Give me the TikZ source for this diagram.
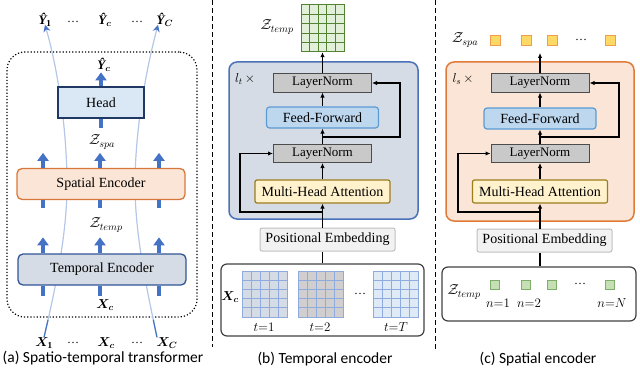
\RequirePackage{fix-cm}
\documentclass[tikz,border=0pt]{standalone}
\usepackage{amsmath,bm}
\usepackage{fontspec}
\setmainfont{Liberation Serif}
\newfontfamily\capfont{Carlito}
\usetikzlibrary{arrows.meta}

\definecolor{flowblue}{HTML}{4472C4}
\definecolor{paleblue}{HTML}{B4C7E7}
\definecolor{headfill}{HTML}{DAE8F6}
\definecolor{headline}{HTML}{203864}
\definecolor{spafill}{HTML}{FBE5D6}
\definecolor{spaline}{HTML}{D9773A}
\definecolor{tmpfill}{HTML}{D6DCE5}
\definecolor{tmpline}{HTML}{2F5597}
\definecolor{blkline}{HTML}{4A72B8}
\definecolor{sblkline}{HTML}{E07B39}
\definecolor{lnfill}{HTML}{C9C9C9}
\definecolor{fffill}{HTML}{BDD7EE}
\definecolor{ffline}{HTML}{5B9BD5}
\definecolor{mhafill}{HTML}{FFF2CC}
\definecolor{mhaline}{HTML}{9C7C1C}
\definecolor{pefill}{HTML}{F2F2F2}
\definecolor{peline}{HTML}{BFBFBF}
\definecolor{gridA}{HTML}{D6DCE5}
\definecolor{gridB}{HTML}{D0CECE}
\definecolor{gridC}{HTML}{DEEBF7}
\definecolor{gridline}{HTML}{8FAADC}
\definecolor{zfill}{HTML}{E2F0D9}
\definecolor{zline}{HTML}{548235}
\definecolor{sqfill}{HTML}{FFD966}
\definecolor{sqline}{HTML}{ED9D4D}
\definecolor{gsqfill}{HTML}{C5E0B4}
\definecolor{gsqline}{HTML}{7FAE6A}

\begin{document}
\begin{tikzpicture}[
    x=1pt, y=-1pt,
    enc/.style={rounded corners=5pt, line width=1.3pt, minimum width=168pt, minimum height=31pt, font=\fontsize{14}{16}\selectfont},
    lnorm/.style={draw=black!70, fill=lnfill, line width=1pt, minimum width=98pt, minimum height=18pt, font=\fontsize{13}{15}\selectfont},
    ffwd/.style={draw=ffline, fill=fffill, rounded corners=3pt, line width=1.2pt, minimum width=112pt, minimum height=21pt, font=\fontsize{14}{16}\selectfont},
    mha/.style={draw=mhaline, fill=mhafill, rounded corners=2pt, line width=1.2pt, minimum width=135pt, minimum height=23pt, font=\fontsize{14}{16}\selectfont},
    posemb/.style={draw=peline, fill=pefill, rounded corners=2pt, line width=1pt, minimum width=135pt, minimum height=23pt, font=\fontsize{14}{16}\selectfont},
    inbox/.style={draw=black!75, line width=1.2pt, rounded corners=6pt},
    lbl/.style={inner sep=0pt, font=\fontsize{13}{15}\selectfont},
    zlbl/.style={inner sep=0pt, font=\fontsize{14.5}{16}\selectfont},
    dots/.style={inner sep=0pt, font=\fontsize{12}{14}\selectfont},
    caption/.style={font=\capfont\fontsize{15.5}{18}\selectfont},
    barrow/.style={draw=flowblue, line width=3.5pt, -{Triangle[width=11pt,length=8pt]}},
    bstem/.style={draw=flowblue, line width=3.5pt},
    fade/.style={draw=paleblue, line width=1.2pt},
    flow/.style={line width=1.1pt, -{Latex[length=5pt,width=4.5pt]}},
    sep/.style={dash pattern=on 5pt off 3pt, line width=1pt},
    cell/.style={draw=gridline, line width=0.8pt},
    tok/.style={draw=sqline, fill=sqfill, line width=0.8pt, minimum size=10pt, inner sep=0pt},
    gtok/.style={draw=gsqline, fill=gsqfill, line width=0.8pt, minimum size=9pt, inner sep=0pt}
]
\useasboundingbox (0,0) rectangle (640,369);

% (a) spatio-temporal transformer
\node[draw, dotted, line width=1.2pt, rounded corners=18pt, minimum width=190pt, minimum height=265pt] (stt) at (102,184.5) {};

\node[lbl] (y1) at (45,20) {$\text{\bfseries\itshape Ŷ}_{\mathbf 1}$};
\node[dots] at (73,22) {…};
\node[lbl] (yc) at (105,20) {$\text{\bfseries\itshape Ŷ}_{\bm c}$};
\node[dots] at (137,22) {…};
\node[lbl] (yC) at (165,20) {$\text{\bfseries\itshape Ŷ}_{\bm C}$};

\node[lbl] (x1) at (44,343) {$\bm X_{\mathbf 1}$};
\node[dots] at (73,343) {…};
\node[lbl] (xc) at (106,343) {$\bm X_{\bm c}$};
\node[dots] at (137,343) {…};
\node[lbl] (xC) at (167,343) {$\bm X_{\bm C}$};

\draw[fade, -{Stealth[length=7pt,width=7pt,color=flowblue]}] (x1.north) .. controls (55,290) and (67,235) .. (67,185) .. controls (67,130) and (58,70) .. ([yshift=2pt]y1.south);
\draw[fade, draw=flowblue, dash pattern=on 18pt off 600pt] (x1.north) .. controls (55,290) and (67,235) .. (67,185);
\draw[fade, -{Stealth[length=7pt,width=7pt,color=flowblue]}] ([xshift=-10pt]xC.north) .. controls (147,290) and (135,235) .. (135,185) .. controls (135,130) and (146,70) .. ([xshift=-7pt,yshift=2pt]yC.south);
\draw[fade, draw=flowblue, dash pattern=on 18pt off 600pt] ([xshift=-10pt]xC.north) .. controls (147,290) and (135,235) .. (135,185);

\node[enc, draw=headline, fill=headfill, rounded corners=0pt, minimum width=86pt] (head) at (101,102.5) {Head};
\node[enc, draw=spaline, fill=spafill] (spa) at (101,184) {Spatial Encoder};
\node[enc, draw=tmpline, fill=tmpfill] (tmp) at (102,269.5) {Temporal Encoder};

\node[lbl] (ych) at (104,65) {$\text{\bfseries\itshape Ŷ}_{\bm c}$};
\node[zlbl] (zsa) at (102,142) {$\mathcal{Z}_{spa}$};
\node[zlbl] (zta) at (106,225) {$\mathcal{Z}_{temp}$};
\node[lbl] (xca) at (105,305) {$\bm X_{\bm c}$};

\draw[barrow] (head.north) -- ++(0,-14);
\draw[bstem] (head.south) -- ++(0,9);
\draw[barrow] ([xshift=-58pt]spa.north) -- ++(0,-15);
\draw[barrow] ([xshift=-1pt]spa.north) -- ++(0,-15);
\draw[barrow] ([xshift=58pt]spa.north) -- ++(0,-15);
\draw[bstem] ([xshift=-58pt]spa.south) -- ++(0,8);
\draw[bstem] ([xshift=-1pt]spa.south) -- ++(0,8);
\draw[bstem] ([xshift=58pt]spa.south) -- ++(0,8);
\draw[barrow] ([xshift=-59pt]tmp.north) -- ++(0,-16);
\draw[barrow] ([xshift=-2pt]tmp.north) -- ++(0,-16);
\draw[barrow] ([xshift=57pt]tmp.north) -- ++(0,-16);
\draw[bstem] ([xshift=-59pt]tmp.south) -- ++(0,10);
\draw[bstem] ([xshift=-2pt]tmp.south) -- ++(0,10);
\draw[bstem] ([xshift=57pt]tmp.south) -- ++(0,10);

\node[caption] at (103,358) {(a) Spatio-temporal transformer};

\draw[sep] (212,0) -- (212,347);

% (b) temporal encoder
\foreach \i in {0,...,4}
  \foreach \j in {0,...,4}
    \draw[cell, draw=zline, fill=zfill, line width=1pt] (301+\i*8.6, 5+\j*9.4) rectangle ++(8.6,9.4);
\node[minimum width=43pt, minimum height=47pt] (zgrid) at (322.5,28.5) {};
\node[zlbl] at (277,27) {$\mathcal{Z}_{temp}$};

\node[draw=blkline, fill=tmpfill, line width=1.5pt, rounded corners=8pt, minimum width=189pt, minimum height=157pt] (tblk) at (323.5,140.5) {};
\node[lbl] at (245,79) {$l_t\,{\times}$};

\node[lnorm] (ln2b) at (322.5,83) {LayerNorm};
\node[ffwd] (ffb) at (322.5,117.5) {Feed-Forward};
\node[lnorm] (ln1b) at (322.5,153.5) {LayerNorm};
\node[mha] (mhab) at (322.5,191.5) {Multi-Head Attention};
\node[posemb] (peb) at (327.5,239.5) {Positional Embedding};
\node[inbox, minimum width=203pt, minimum height=72pt] (inpb) at (322.5,300) {};

\coordinate (r1b) at (322.5,212);
\coordinate (r2b) at (322.5,137);

\draw[line width=1.1pt] (inpb.north) -- (inpb.north |- peb.south);
\draw[flow] (mhab.south |- peb.north) -- (mhab.south);
\draw[flow] (mhab.north) -- (ln1b.south);
\draw[flow] (ln1b.north) -- (ffb.south);
\draw[flow] (ffb.north) -- (ln2b.south);
\draw[flow] (ln2b.north) -- (zgrid.south);
\draw[flow] (r1b) -- ++(-82.5,0) |- (ln1b.west);
\draw[flow] (r2b) -- ++(77.5,0) |- (ln2b.east);

\foreach \gx/\gfill in {242/gridA, 298/gridB, 373/gridC}
  \foreach \i in {0,...,4}
    \foreach \j in {0,...,4}
      \draw[cell, fill=\gfill] (\gx+\i*9, 271+\j*9.2) rectangle ++(9,9.2);

\node[lbl] (xcb) at (230,297) {$\bm X_{\bm c}$};
\node[dots] at (360,294) {…};
\node[lbl] (t1) at (264,327) {$t{=}1$};
\node[lbl] (t2) at (320,327) {$t{=}2$};
\node[lbl] (tT) at (396,327) {$t{=}T$};

\node[caption] at (325,359) {(b) Temporal encoder};

\draw[sep] (435,0) -- (435,350);

% (c) spatial encoder
\node[zlbl] at (465,40) {$\mathcal{Z}_{spa}$};
\foreach \n/\x in {1/495, 2/526, 3/552, 4/610}
  \node[tok] (s\n) at (\x,40) {};
\node[dots] at (581,40) {…};

\node[draw=sblkline, fill=spafill, line width=1.5pt, rounded corners=8pt, minimum width=188pt, minimum height=159pt] (sblk) at (540,141.5) {};
\node[lbl] at (463,79) {$l_s\,{\times}$};

\node[lnorm] (ln2c) at (540,83) {LayerNorm};
\node[ffwd] (ffc) at (540,118.5) {Feed-Forward};
\node[lnorm] (ln1c) at (540,153.5) {LayerNorm};
\node[mha] (mhac) at (540,191.5) {Multi-Head Attention};
\node[posemb] (pec) at (544.5,240.5) {Positional Embedding};
\node[inbox, minimum width=194pt, minimum height=54pt] (inpc) at (539,294) {};

\coordinate (zsout) at (540,53);
\coordinate (r1c) at (540,212);
\coordinate (r2c) at (540,137);

\draw[line width=1.1pt] (inpc.north -| mhac) -- (mhac |- pec.south);
\draw[flow] (mhac.south |- pec.north) -- (mhac.south);
\draw[flow] (mhac.north) -- (ln1c.south);
\draw[flow] (ln1c.north) -- (ffc.south);
\draw[flow] (ffc.north) -- (ln2c.south);
\draw[flow] (ln2c.north) -- (zsout);
\draw[flow] (r1c) -- ++(-82,0) |- (ln1c.west);
\draw[flow] (r2c) -- ++(79,0) |- (ln2c.east);

\node[zlbl] at (464,292) {$\mathcal{Z}_{temp}$};
\foreach \n/\x in {1/495, 2/526, 3/552, 4/610}
  \node[gtok] (g\n) at (\x,285) {};
\node[dots] at (580,284) {…};
\node[lbl] (n1) at (498,303) {$n{=}1$};
\node[lbl] (n2) at (529,303) {$n{=}2$};
\node[lbl] (nN) at (612,303) {$n{=}N$};

\node[caption] at (538,359) {(c) Spatial encoder};

\end{tikzpicture}
\end{document}
